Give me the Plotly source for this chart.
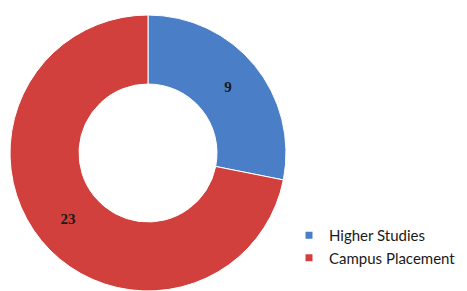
import plotly.graph_objects as go

categories = ["Higher Studies", "Campus Placement"]
values = [9, 23]
colors = ["#4a7ec6", "#d2403d"]

W, H = 467, 291

fig = go.Figure()
fig.add_trace(go.Pie(
    labels=categories,
    values=values,
    hole=0.5,
    sort=False,
    direction="clockwise",
    rotation=0,
    marker=dict(colors=colors, line=dict(color="#ffffff", width=1)),
    textinfo="value",
    textposition="inside",
    insidetextorientation="horizontal",
    textfont=dict(family="Liberation Serif", size=15, color="#1a1a1a", weight="bold"),
    showlegend=False,
    hoverinfo="label+value",
    domain=dict(x=[2 / W, 278 / W], y=[8 / H, 284 / H]),
))

for name, col in zip(categories, colors):
    fig.add_trace(go.Scatter(
        x=[None], y=[None], mode="markers", name=name,
        marker=dict(symbol="square", size=7, color=col),
        showlegend=True,
    ))

fig.update_layout(
    width=W, height=H,
    margin=dict(l=0, r=0, t=0, b=0),
    paper_bgcolor="#ffffff",
    plot_bgcolor="#ffffff",
    xaxis=dict(visible=False),
    yaxis=dict(visible=False),
    legend=dict(
        x=281 / W, y=1 - 211 / H, xanchor="left", yanchor="top",
        font=dict(family="Lato", size=15, color="#1a1a1a"),
        tracegroupgap=0, itemwidth=30,
        bgcolor="rgba(0,0,0,0)",
    ),
)

fig.write_html("out.html")
